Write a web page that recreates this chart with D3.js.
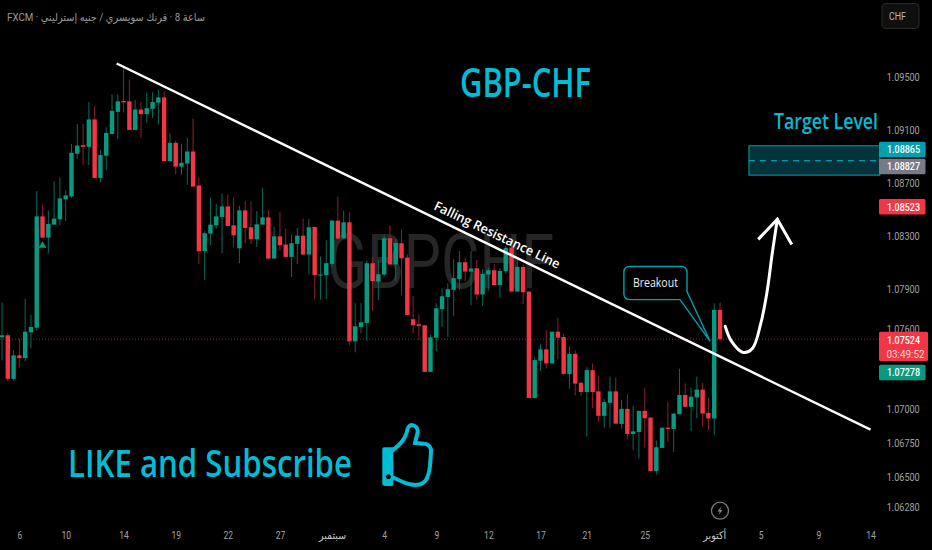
<!DOCTYPE html>
<html>
<head>
<meta charset="utf-8">
<script src="https://cdn.jsdelivr.net/npm/d3@7/dist/d3.min.js"></script>
<style>
  html, body { margin: 0; padding: 0; background: #000; }
  svg { display: block; }
  text { font-family: Roboto, "DejaVu Sans", sans-serif; }
</style>
</head>
<body>
<svg id="chart"></svg>
<script>
// candles, prices in units of 0.00001
const opens = [107538,107553,107228,107403,107383,107575,107610,108445,108285,108383,108423,108573,108595,108918,108983,108970,109178,108735,108903,109068,
  109235,109318,109315,109098,109253,109218,109258,109305,109345,108863,109000,108820,108843,108935,108678,108183,108315,108378,108440,108520,
  108378,108205,108490,108363,108273,108383,108438,108128,108295,108233,108140,108238,108300,108158,108365,108000,108003,108088,108413,108280,
  108400,107508,107615,107645,108093,107955,108008,108280,108083,108243,108135,107673,107635,107628,107280,107535,107748,107840,107893,107973,
  108100,108030,108055,107858,108008,108040,107928,108033,108210,107880,108065,107880,107085,107363,107448,107343,107580,107540,107263,107415,
  107198,107130,107293,107135,106953,107050,107135,106893,107005,106818,106833,106990,106940,106543,106715,106865,106855,106965,107108,107020,
  107090,107148,106975,106933,107743];
const highs = [107798,107568,107440,107530,107828,107708,108635,108533,108490,108710,108738,108640,108993,109143,109143,109308,109283,108948,109118,109368,
  109368,109593,109480,109323,109308,109378,109383,109403,109390,109073,109018,108993,109038,109185,108738,108335,108588,108538,108618,108608,
  108590,108525,108563,108558,108485,108660,108495,108368,108480,108353,108308,108358,108428,108425,108368,108143,108265,108418,108593,108488,
  108473,107793,107793,108113,108138,108113,108303,108378,108275,108348,108160,107845,107708,107628,107558,107793,107903,107943,108123,108183,
  108135,108183,108118,108048,108060,108085,108053,108223,108235,108123,108085,107880,107390,107485,107590,107580,107685,107565,107468,107440,
  107205,107318,107343,107253,107080,107245,107238,107073,107115,107028,106990,107160,106940,106770,106865,107055,106970,107303,107193,107163,
  107245,107198,107088,107793,107798];
const lows = [107365,107210,107218,107315,107358,107455,107590,108280,108168,108383,108378,108410,108583,108880,108833,108833,108733,108700,108793,109068,
  109030,109230,109098,109098,109038,109155,109188,109140,108863,108858,108763,108758,108683,108670,108088,107968,108228,108353,108168,108373,
  108213,108093,108243,108238,108215,108383,108118,108128,108185,108140,107990,108088,108158,108013,107823,107818,107823,108068,108273,108280,
  107478,107425,107568,107510,107735,107818,107993,108083,107960,107853,107705,107568,107518,107280,107280,107435,107615,107540,107695,107893,
  107960,107778,107818,107773,107888,107928,107833,108015,107880,107880,107785,107085,107085,107285,107305,107343,107373,107260,107155,107105,
  107098,106798,107010,106910,106865,106865,106895,106860,106780,106698,106635,106718,106543,106518,106715,106760,106685,106965,107020,106840,
  106935,106873,106845,106810,107508];
const closes = [107553,107228,107403,107383,107580,107615,108445,108285,108388,108428,108580,108603,108925,108980,108970,109178,108735,108908,109075,109243,
  109315,109308,109098,109253,109218,109263,109310,109345,108863,109000,108820,108850,108935,108670,108183,108318,108383,108445,108520,108373,
  108303,108490,108358,108273,108385,108438,108128,108295,108228,108140,108243,108300,108158,108363,108003,108008,108093,108413,108278,108400,
  107508,107620,107650,108093,107958,108010,108280,108083,108245,108130,107705,107628,107623,107280,107538,107755,107845,107898,107980,108100,
  108030,108053,107858,108013,108040,107928,108035,108208,107880,108065,107875,107085,107368,107448,107343,107580,107535,107265,107415,107193,
  107130,107293,107130,106953,107055,107135,106895,107005,106818,106838,106990,106935,106543,106720,106865,106855,106970,107108,107020,107095,
  107148,106970,106933,107743,107524];

// axis labels
const priceTicks = [1.095, 1.091, 1.087, 1.083, 1.079, 1.076, 1.07, 1.0675, 1.065, 1.0628];
const timeTickBars = [3, 11, 21, 30, 39, 48, 57, 66, 75, 84, 93, 101, 111, 123, 131, 141, 150];
const timeTickLabels = ["6", "10", "14", "19", "22", "27", "سبتمبر", "4", "9", "12", "17", "21", "25", "أكتوبر", "5", "9", "14"];

// price tags on the right
const lastPrice = 1.07524;
const tagValues = ["1.08865", "1.08827", "1.08523", "1.07278"];
const tagColors = ["#00a0ae", "#787b86", "#f23645", "#089981"];

// drawings, as [bar, price]
const trendLine = [[19.8, 1.09603], [150, 1.0685]];
const arrowCurve = [[124.9, 1.07621], [126, 1.07507], [128, 1.07425], [129.6, 1.07455], [131, 1.07634], [132.1, 1.07872], [133, 1.0816], [133.9, 1.08424]];
const arrowHead = [[130.6, 1.08272], [133.9, 1.08424], [136.4, 1.08234]];
const targetBox = { bars: [129, 151.6], top: 1.08978, bottom: 1.08756, mid: 1.08865 };
const breakoutBox = { bars: [107.4, 118.3], top: 1.08068, bottom: 1.0782, tip: [122.3, 1.07507] };

const width = 932, height = 550;
const teal = "#00bcd4", green = "#089981", red = "#f23645", axisGrey = "#a3a3a3";

const svg = d3.select("#chart").attr("width", width).attr("height", height);
svg.append("rect").attr("width", width).attr("height", height).attr("fill", "#000");

const x = d3.scaleLinear().domain([0, opens.length - 1]).range([2, 720]);
const y = d3.scaleLog().domain([1.0628, 1.095]).range([506.7, 77]);

// big symbol watermark sits under everything
svg.append("text")
  .attr("x", 327).attr("y", 288)
  .attr("textLength", 227).attr("lengthAdjust", "spacingAndGlyphs")
  .style("font-size", "76px").attr("fill", "#262626")
  .text("GBPCHF");

// last price line
svg.append("line")
  .attr("x1", 0).attr("x2", 879)
  .attr("y1", y(lastPrice)).attr("y2", y(lastPrice))
  .attr("stroke", "#8a2029").attr("stroke-width", 1).attr("stroke-dasharray", "1 2");

// candles
const candle = svg.append("g").selectAll("g")
  .data(d3.range(opens.length))
  .enter().append("g");

candle.append("line")
  .attr("x1", i => x(i)).attr("x2", i => x(i))
  .attr("y1", i => y(highs[i] / 1e5)).attr("y2", i => y(lows[i] / 1e5))
  .attr("stroke", i => closes[i] >= opens[i] ? "#066b5b" : "#8f1f2a")
  .attr("stroke-width", 1);

candle.append("rect")
  .attr("x", i => x(i) - 2.2)
  .attr("width", 4.4)
  .attr("y", i => y(Math.max(opens[i], closes[i]) / 1e5))
  .attr("height", i => Math.max(1, Math.abs(y(opens[i] / 1e5) - y(closes[i] / 1e5))))
  .attr("fill", i => closes[i] >= opens[i] ? green : red);

// little marker under the seventh candle
svg.append("path")
  .attr("d", d3.symbol(d3.symbolTriangle, 26))
  .attr("transform", `translate(${x(7)},${y(1.08225)})`)
  .attr("fill", green);

// target zone
const tbx0 = x(targetBox.bars[0]), tbx1 = x(targetBox.bars[1]);
svg.append("rect")
  .attr("x", tbx0).attr("y", y(targetBox.top))
  .attr("width", tbx1 - tbx0).attr("height", y(targetBox.bottom) - y(targetBox.top))
  .attr("fill", "#04333b").attr("stroke", "#00a0ae").attr("stroke-width", 1);
svg.append("line")
  .attr("x1", tbx0).attr("x2", tbx1)
  .attr("y1", y(targetBox.mid)).attr("y2", y(targetBox.mid))
  .attr("stroke", teal).attr("stroke-width", 1).attr("stroke-dasharray", "6 5");

const line = d3.line().x(d => x(d[0])).y(d => y(d[1]));

// trend line
svg.append("path").attr("d", line(trendLine))
  .attr("fill", "none").attr("stroke", "#fff").attr("stroke-width", 2.4);

svg.append("text")
  .attr("transform", "translate(433,209) rotate(25.7)")
  .attr("textLength", 138).attr("lengthAdjust", "spacingAndGlyphs")
  .style("font-family", '"Open Sans", sans-serif')
  .style("font-size", "13px").style("font-weight", 600).attr("fill", "#fff")
  .text("Falling Resistance Line");

// breakout callout
const bx0 = x(breakoutBox.bars[0]), bx1 = x(breakoutBox.bars[1]);
const by0 = y(breakoutBox.top), by1 = y(breakoutBox.bottom);
const r = 6;
const call = d3.path();
call.moveTo(bx0 + r, by0);
call.lineTo(bx1 - r, by0);
call.quadraticCurveTo(bx1, by0, bx1, by0 + r);
call.lineTo(bx1, by1 - 8);
call.lineTo(x(breakoutBox.tip[0]), y(breakoutBox.tip[1]));
call.lineTo(bx1 - 7, by1);
call.lineTo(bx0 + r, by1);
call.quadraticCurveTo(bx0, by1, bx0, by1 - r);
call.lineTo(bx0, by0 + r);
call.quadraticCurveTo(bx0, by0, bx0 + r, by0);
svg.append("path").attr("d", call.toString())
  .attr("fill", "#000").attr("stroke", "#00a0ae").attr("stroke-width", 1.4);
svg.append("text")
  .attr("x", (bx0 + bx1) / 2).attr("y", 287).attr("text-anchor", "middle")
  .attr("textLength", 45).attr("lengthAdjust", "spacingAndGlyphs")
  .style("font-family", '"Open Sans", sans-serif')
  .style("font-size", "12px").style("font-weight", 500).attr("fill", "#eee")
  .text("Breakout");

// curved arrow
svg.append("path").attr("d", d3.line().x(d => x(d[0])).y(d => y(d[1])).curve(d3.curveCatmullRom)(arrowCurve))
  .attr("fill", "none").attr("stroke", "#fff").attr("stroke-width", 3).attr("stroke-linecap", "round");
svg.append("path").attr("d", line(arrowHead))
  .attr("fill", "none").attr("stroke", "#fff").attr("stroke-width", 3);

// titles
function label(txt, px, py, len, size) {
  return svg.append("text")
    .attr("x", px).attr("y", py)
    .attr("textLength", len).attr("lengthAdjust", "spacingAndGlyphs")
    .style("font-family", '"Open Sans", sans-serif')
    .style("font-size", size + "px").style("font-weight", 600)
    .attr("fill", teal).text(txt);
}
label("GBP-CHF", 460, 97, 131, 40);
label("Target Level", 774, 129, 104, 21);
label("LIKE and Subscribe", 68, 476.5, 284, 37);

// thumbs up icon
const thumb = svg.append("g");
thumb.append("path")
  .attr("d", "M392,451 C399,445 404,441 406.5,433 C407.5,427 410,425 412,425 C416,425.5 418.5,429 417.5,433 L415,443 L424,443.8 C429,444 431.5,448 431,452 L430,466 C429,474 427,481 423,483 C418,486 410,485 403,482 L392,477")
  .attr("fill", "none").attr("stroke", teal).attr("stroke-width", 4);
thumb.append("path")
  .attr("fill-rule", "evenodd")
  .attr("d", "M382.3,449 Q382.3,447.3 384,447.3 L393.3,447.3 L393.3,484 Q393.3,486 391,486 L385,486 Q382.3,486 382.3,483 Z M388.3,474.2 a2.5,2.5 0 1,0 0.01,0 Z")
  .attr("fill", teal);

// price axis, labels only
const yAxis = svg.append("g")
  .attr("transform", "translate(886.7,0)")
  .call(d3.axisRight(y).tickValues(priceTicks).tickSize(0).tickPadding(0).tickFormat(d3.format(".5f")));
yAxis.select(".domain").remove();
yAxis.selectAll("text")
  .attr("textLength", 33).attr("lengthAdjust", "spacingAndGlyphs")
  .style("font-size", "10.7px").attr("fill", axisGrey);

// time axis
const xAxis = svg.append("g")
  .attr("transform", "translate(0,531)")
  .call(d3.axisBottom(x).tickValues(timeTickBars).tickSize(0).tickPadding(0)
    .tickFormat((d, i) => timeTickLabels[i]));
xAxis.select(".domain").remove();
xAxis.selectAll("text")
  .attr("dy", "0.72em")
  .attr("textLength", (d, i) => {
    const t = timeTickLabels[i];
    return t === "سبتمبر" ? 27 : t === "أكتوبر" ? 23 : t.length * 4.8;
  })
  .attr("lengthAdjust", "spacingAndGlyphs")
  .style("font-size", "10.7px")
  .attr("fill", (d, i) => timeTickLabels[i].length > 2 ? "#c8c8c8" : axisGrey);

// price tags, the stacked ones get pushed apart like on the real chart
const tagCenters = [149.5, 166.5, 206.7, 372.5];
tagValues.forEach((v, i) => {
  svg.append("rect")
    .attr("x", 879).attr("y", tagCenters[i] - 7.8)
    .attr("width", 46.5).attr("height", 15.6).attr("rx", 1.5)
    .attr("fill", tagColors[i]);
  svg.append("text")
    .attr("x", 887).attr("y", tagCenters[i] + 3.9)
    .attr("textLength", 33).attr("lengthAdjust", "spacingAndGlyphs")
    .style("font-size", "10.7px").style("font-weight", 500).attr("fill", "#fff")
    .text(v);
});
svg.append("rect")
  .attr("x", 879).attr("y", 331.7).attr("width", 49).attr("height", 29.3).attr("rx", 1.5)
  .attr("fill", red);
svg.append("text")
  .attr("x", 887).attr("y", 344)
  .attr("textLength", 33).attr("lengthAdjust", "spacingAndGlyphs")
  .style("font-size", "10.7px").style("font-weight", 500).attr("fill", "#fff")
  .text(lastPrice.toFixed(5));
svg.append("text")
  .attr("x", 886.5).attr("y", 357.5)
  .attr("textLength", 38).attr("lengthAdjust", "spacingAndGlyphs")
  .style("font-size", "10.7px").attr("fill", "#ffd9dc")
  .text("03:49:52");

// currency button
svg.append("rect")
  .attr("x", 882).attr("y", 3.5).attr("width", 37).attr("height", 25).attr("rx", 4)
  .attr("fill", "#0f0f0f").attr("stroke", "#2b2b2b");
svg.append("text")
  .attr("x", 889).attr("y", 20)
  .attr("textLength", 17).attr("lengthAdjust", "spacingAndGlyphs")
  .style("font-size", "10.7px").attr("fill", "#b8b8b8")
  .text("CHF");

// header
svg.append("text")
  .attr("x", 7).attr("y", 21)
  .attr("textLength", 198).attr("lengthAdjust", "spacingAndGlyphs")
  .style("font-size", "11px").attr("fill", "#9a9a9a")
  .text("FXCM \u00b7 \u200eجنيه إسترليني\u200e / \u200eفرنك سويسري\u200e \u00b7 \u200e8 ساعة");

// lightning badge
const badge = svg.append("g").attr("transform", "translate(720,510.7)");
badge.append("circle").attr("r", 8.5).attr("fill", "none").attr("stroke", "#7a7a7a").attr("stroke-width", 1.3);
badge.append("path").attr("d", "M1.5,-4.5 L-2.5,0.8 L-0.2,0.8 L-1.5,4.5 L2.5,-0.8 L0.2,-0.8 Z").attr("fill", "#8a8a8a");
</script>
</body>
</html>
